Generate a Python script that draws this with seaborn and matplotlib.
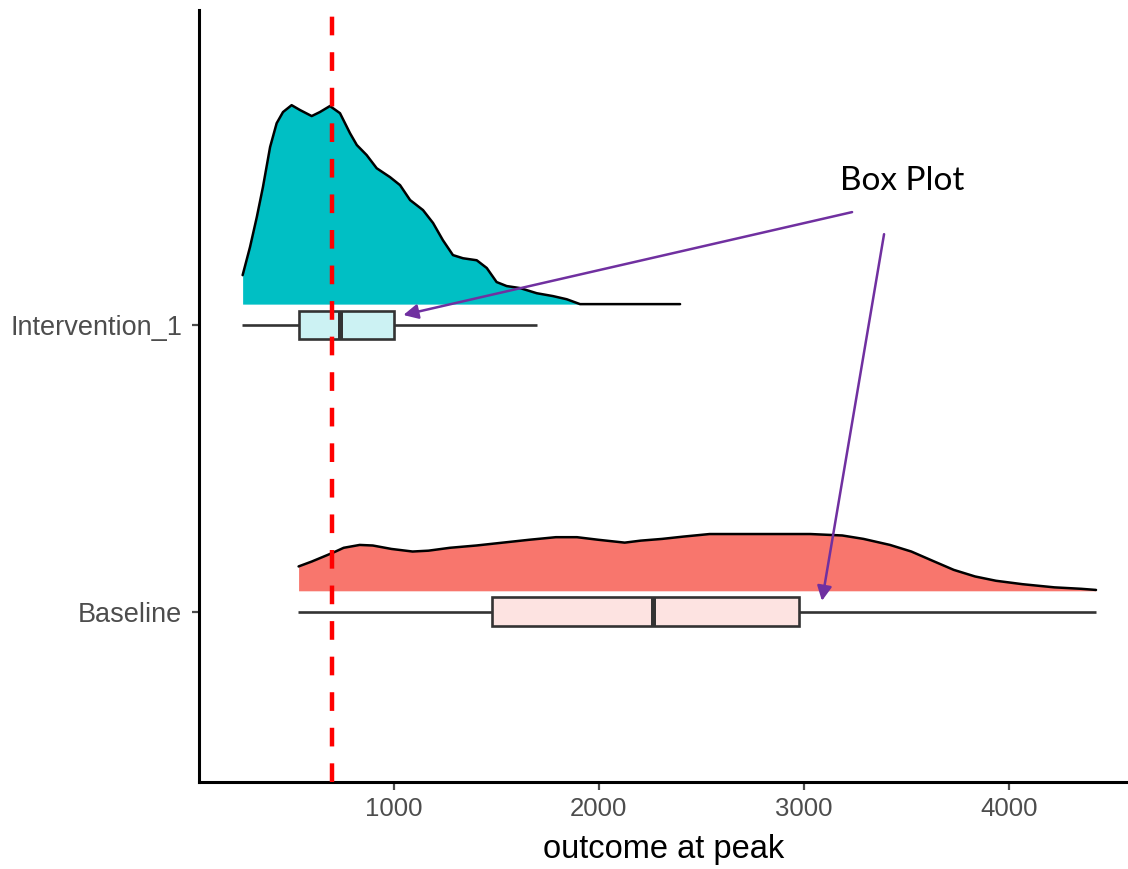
import numpy as np
import pandas as pd
import matplotlib
matplotlib.use("Agg")
import matplotlib.pyplot as plt
import seaborn as sns

# ---------------- data ----------------
groups = ["Baseline", "Intervention_1"]
colors = {"Baseline": "#F8766D", "Intervention_1": "#00BFC4"}
box_fill = {"Baseline": "#FDE3E1", "Intervention_1": "#CCF2F3"}

# five-number summaries (min, Q1, median, Q3, max)
baseline_summary = [534, 1478, 2266, 2977, 4426]
intervention_summary = [258, 538, 738, 1003, 1698]

# density curves (x value, scaled density height in category units)
interv_x = [263, 299, 332, 362, 397, 429, 460, 502, 543, 600, 640, 689, 738, 787,
            820, 868, 917, 982, 1031, 1080, 1143, 1192, 1240, 1289, 1338, 1405,
            1454, 1502, 1551, 1616, 1698, 1777, 1844, 1909, 2397]
interv_h = [0.101, 0.199, 0.303, 0.408, 0.548, 0.631, 0.670, 0.694, 0.677, 0.656,
            0.670, 0.691, 0.666, 0.596, 0.555, 0.520, 0.474, 0.443, 0.415, 0.363,
            0.328, 0.283, 0.223, 0.171, 0.160, 0.153, 0.126, 0.077, 0.063, 0.056,
            0.038, 0.028, 0.017, 0.0, 0.0]

base_x = [536, 600, 704, 756, 834, 898, 989, 1092, 1170, 1274, 1403, 1532, 1661,
          1791, 1894, 1998, 2127, 2205, 2309, 2412, 2541, 2775, 3033, 3188, 3292,
          3421, 3525, 3628, 3732, 3836, 3938, 4068, 4223, 4353, 4426]
base_h = [0.085, 0.102, 0.133, 0.150, 0.160, 0.158, 0.146, 0.137, 0.140, 0.150,
          0.158, 0.168, 0.178, 0.187, 0.187, 0.178, 0.168, 0.175, 0.181, 0.189,
          0.198, 0.198, 0.198, 0.193, 0.181, 0.160, 0.137, 0.105, 0.073, 0.050,
          0.035, 0.023, 0.012, 0.007, 0.003]

reference_value = 700
xticks = [1000, 2000, 3000, 4000]
xlabel = "outcome at peak"
annotation_text = "Box Plot"

# ---------------- style ----------------
sns.set_style("ticks")
plt.rcParams["font.family"] = ["Liberation Sans", "DejaVu Sans"]

fig = plt.figure(figsize=(11.28, 8.69), dpi=100)
ax = fig.add_axes([0.1762, 0.1001, 0.8238, 0.8884])

df = pd.DataFrame({
    "group": ["Baseline"] * 5 + ["Intervention_1"] * 5,
    "value": baseline_summary + intervention_summary,
})

sns.boxplot(data=df, x="value", y="group", hue="group", order=groups,
            hue_order=groups, palette=box_fill, width=0.1, whis=np.inf,
            showcaps=False, linewidth=1.9, linecolor="#333333",
            medianprops={"linewidth": 3.6, "color": "#333333"},
            saturation=1, legend=False, ax=ax)

offset = 0.073
dens = {"Baseline": (base_x, base_h), "Intervention_1": (interv_x, interv_h)}
for i, g in enumerate(groups):
    xs, hs = dens[g]
    xs = np.asarray(xs, float)
    hs = np.asarray(hs, float)
    ax.fill_between(xs, i + offset, i + offset + hs, color=colors[g], lw=0, zorder=2)
    ax.plot(xs, i + offset + hs, color="black", lw=1.8, zorder=3)

ax.axvline(reference_value, color="#FF0000", lw=3.2, ls=(0, (4.2, 3.8)), zorder=6)

# annotation
purple = "#7030A0"
ax.text(3480, 1.471, annotation_text, fontsize=24, family=["Lato", "DejaVu Sans"],
        ha="center", va="baseline", color="black", zorder=7)
ax.annotate("", xy=(1047, 1.035), xytext=(3236, 1.394),
            arrowprops=dict(arrowstyle="-|>", color=purple, lw=1.8,
                            mutation_scale=22, shrinkA=0, shrinkB=0), zorder=7)
ax.annotate("", xy=(3089, 0.038), xytext=(3392, 1.317),
            arrowprops=dict(arrowstyle="-|>", color=purple, lw=1.8,
                            mutation_scale=22, shrinkA=0, shrinkB=0), zorder=7)

ax.set_xlim(49, 4582)
ax.set_ylim(-0.594, 2.099)
ax.set_xticks(xticks)
ax.set_xticklabels([str(t) for t in xticks])
ax.set_yticks([0, 1])
ax.set_yticklabels(groups)
ax.set_ylabel("")
ax.set_xlabel(xlabel, fontsize=23.5, color="black", labelpad=10)

for s in ["top", "right"]:
    ax.spines[s].set_visible(False)
for s in ["left", "bottom"]:
    ax.spines[s].set_linewidth(2.2)
    ax.spines[s].set_color("black")

ax.tick_params(axis="x", labelsize=18.5, colors="#4D4D4D", length=5.5, width=1.6,
               pad=5)
ax.tick_params(axis="y", labelsize=19.5, colors="#4D4D4D", length=5, width=1.6,
               pad=7)
for t in ax.get_xticklines() + ax.get_yticklines():
    t.set_color("#333333")
ax.grid(False)

fig.savefig("out.png", dpi=100, facecolor="white")
